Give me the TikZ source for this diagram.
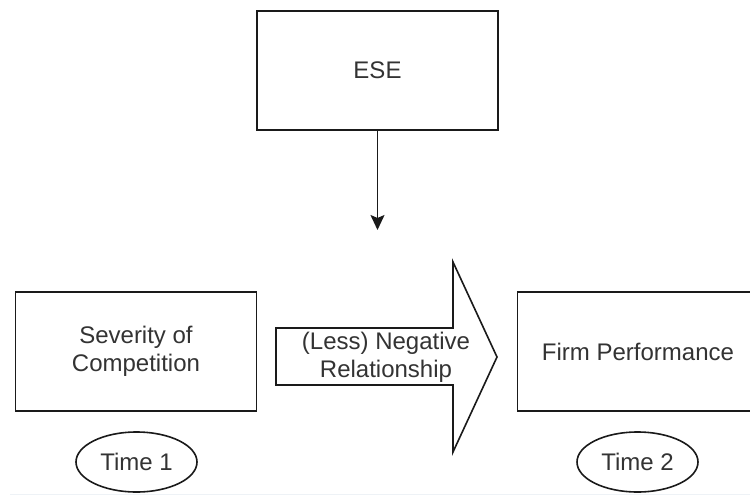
\documentclass[tikz,border=0pt]{standalone}
\usepackage{fontspec}
\setmainfont{Liberation Sans}
\usetikzlibrary{arrows.meta,shapes.geometric}
\definecolor{txt}{HTML}{333333}
\definecolor{edge}{HTML}{1A1A1A}
\definecolor{faint}{HTML}{EEF2F6}
\begin{document}
\begin{tikzpicture}[x=1pt,y=-1pt,
  lbl/.style={font=\fontsize{24}{28}\selectfont, text=txt, align=center},
  box/.style={lbl, draw=edge, line width=1.6pt, fill=white, minimum width=241pt, minimum height=119pt, inner sep=0pt},
  timeoval/.style={lbl, ellipse, draw=edge, line width=1.6pt, minimum width=121pt, minimum height=60pt, inner sep=0pt},
  bigarrow/.style={draw=edge, line width=1.6pt, fill=white, line join=miter},
  conn/.style={draw=edge, line width=1.6pt, -{Stealth[length=15pt,width=14pt,inset=3pt]}}]
\clip (0,0) rectangle (750,496);
\fill[white] (0,0) rectangle (750,496);
\draw[faint, line width=1.5pt] (10,494.5) -- (750,494.5);

\node[box] (ese) at (377.5,70.5) {ESE};
\coordinate (esetip) at (377.5,230);
\draw[conn] (ese.south) -- (esetip);

\node[box] (sev) at (136,351.5) {Severity of\\Competition};
\node[box] (firm) at (638,351.5) {Firm Performance};

\draw[bigarrow] (276,328) -- (453,328) -- (453,262) -- (497,357) -- (453,452) -- (453,385) -- (276,385) -- cycle;
\node[lbl, inner sep=0pt] (rel) at (386,357) {(Less) Negative\\Relationship};

\node[timeoval] (t1) at (136.5,462) {Time 1};
\node[timeoval] (t2) at (637.5,462) {Time 2};
\end{tikzpicture}
\end{document}
